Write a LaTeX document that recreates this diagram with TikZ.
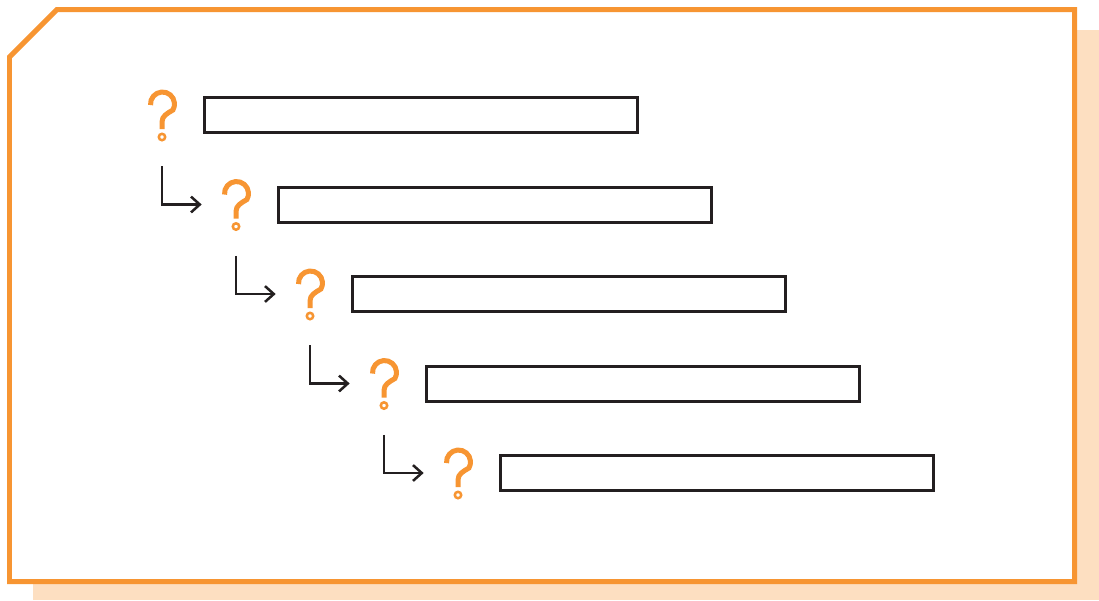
\documentclass[tikz,border=0pt]{standalone}
\usetikzlibrary{arrows.meta,positioning}
\definecolor{qorange}{RGB}{247,149,50}
\definecolor{peach}{RGB}{253,223,193}
\definecolor{ink}{RGB}{35,31,32}
\begin{document}
\begin{tikzpicture}[x=0.02cm,y=-0.02cm,line cap=butt,line join=miter]
			\tikzset{qnode/.style={minimum width=0.6cm,minimum height=1.04cm,inner sep=0pt},
				blank/.style={draw=ink,line width=0.06cm,minimum width=8.66cm,minimum height=0.7cm,inner sep=0pt},
				turn/.style={draw=ink,line width=0.05cm,-{Straight Barb[length=5pt,width=9pt,line width=0.05cm]}},
				qmark/.pic={
					\draw[qorange,line width=0.1cm] (-11.45,-9.95) arc[start angle=175,end angle=390,radius=12]
					.. controls (5,-1.5) and (0,1) .. (0,7) -- (0,14);
					\draw[qorange,line width=0.05cm] (0,22) circle (3.2);
				}
			}
			\useasboundingbox (0,0) rectangle (1099,600);
			\fill[peach] (33,30) rectangle (1099,600);
			\draw[qorange,line width=0.1cm,fill=white] (9.5,57)--(57,9.5)--(1074.5,9.5)--(1074.5,581.5)--(9.5,581.5)--cycle;
			\foreach \n in {1,...,5}{
				\node[qnode] (q\n) at ({162+74*(\n-1)},{115+89.5*(\n-1)}){};
				\path (q\n) pic{qmark};
				\node[blank,right=0.52cm of q\n] (b\n){};
			}
			\foreach \n [evaluate=\n as \m using int(\n+1)] in {1,...,4}
				\draw[turn] ([yshift=-0.5cm]q\n.south) |- ([xshift=-0.38cm]q\m.west);
		\end{tikzpicture}
\end{document}
